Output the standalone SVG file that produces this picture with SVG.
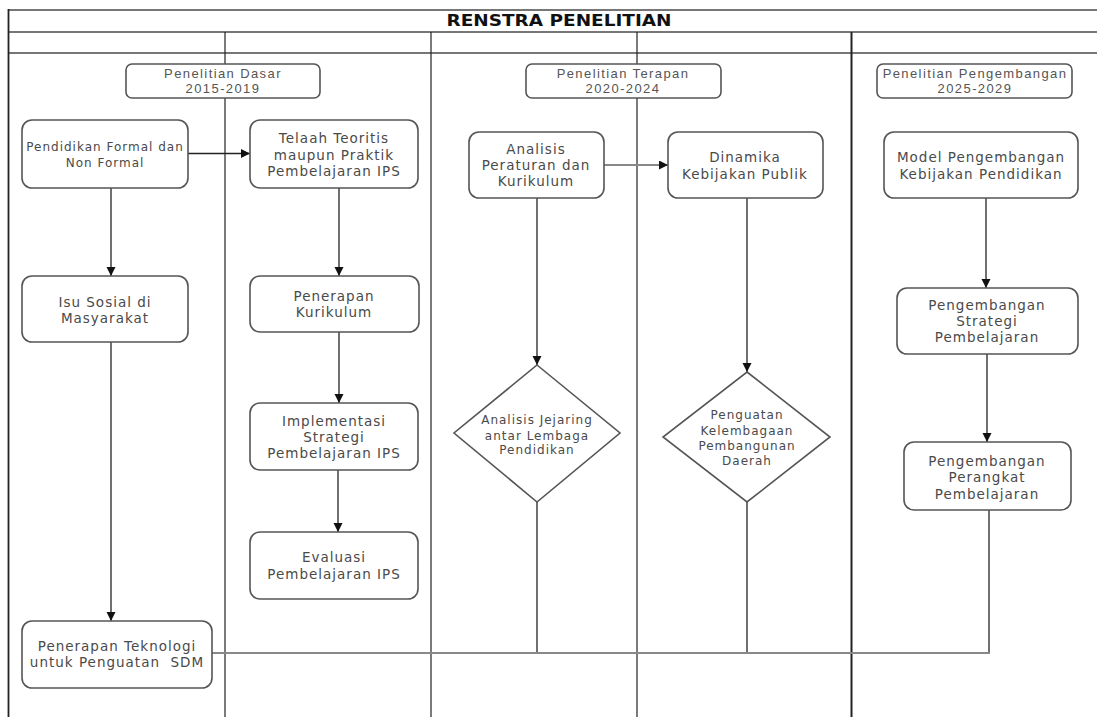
<svg xmlns="http://www.w3.org/2000/svg" width="1097" height="717" viewBox="0 0 1097 717">
<defs>
<marker id="ah" markerUnits="userSpaceOnUse" markerWidth="10" markerHeight="10" refX="9" refY="4.5" orient="auto">
<path d="M0,0 L9,4.5 L0,9 z" fill="#111"/>
</marker>
<style>
.lane{stroke:#222;stroke-width:1.2;fill:none}
.hl{stroke:#777;stroke-width:2;fill:none}
.box{fill:#fff;stroke:#555;stroke-width:1.6}
.hbox{fill:#fff;stroke:#555;stroke-width:1.6}
.t{font-family:"DejaVu Sans",Verdana,sans-serif;font-size:13.5px;letter-spacing:1px;fill:#4a4a4a;text-anchor:middle}
.ts{font-family:"DejaVu Sans",Verdana,sans-serif;font-size:12px;letter-spacing:1px;fill:#4a4a4a;text-anchor:middle}
.th{font-family:"Liberation Sans",Arial,sans-serif;font-size:13px;letter-spacing:1.4px;fill:#555;text-anchor:middle}
.title{font-family:"DejaVu Sans",Verdana,sans-serif;font-size:16px;font-weight:bold;fill:#111;text-anchor:middle}
.c{stroke:#222;stroke-width:1.3;fill:none}
.cg{stroke:#888;stroke-width:2.2;fill:none}
</style>
</defs>
<rect width="1097" height="717" fill="#fff"/>
<g id="swimlanes">
<line class="hl" x1="8" y1="10" x2="1097" y2="10"/>
<line class="hl" x1="8" y1="32" x2="1097" y2="32"/>
<line class="hl" x1="8" y1="53" x2="1097" y2="53"/>
<line class="lane" x1="8.5" y1="9" x2="8.5" y2="717" style="stroke-width:1.8"/>
<line class="lane" x1="225" y1="32" x2="225" y2="717"/>
<line class="lane" x1="431" y1="32" x2="431" y2="717"/>
<line class="lane" x1="637" y1="32" x2="637" y2="717"/>
<line class="lane" x1="851.5" y1="32" x2="851.5" y2="717" style="stroke-width:2"/>
<text class="title" x="559" y="26" textLength="225" lengthAdjust="spacingAndGlyphs">RENSTRA PENELITIAN</text>
</g>
<g id="h-dasar">
<rect class="hbox" x="126" y="64" width="194" height="34" rx="6"/>
<text class="th" x="223" y="78">Penelitian Dasar</text>
<text class="th" x="223" y="93">2015-2019</text>
</g>
<g id="h-terapan">
<rect class="hbox" x="526" y="64" width="195" height="34" rx="6"/>
<text class="th" x="623" y="78">Penelitian Terapan</text>
<text class="th" x="623" y="93">2020-2024</text>
</g>
<g id="h-pengembangan">
<rect class="hbox" x="877" y="64" width="195" height="34" rx="6"/>
<text class="th" x="975" y="78">Penelitian Pengembangan</text>
<text class="th" x="975" y="93">2025-2029</text>
</g>
<g id="connectors">
<line class="c" x1="188" y1="153.5" x2="250" y2="153.5" marker-end="url(#ah)"/>
<line class="c" x1="111" y1="188" x2="111" y2="276" marker-end="url(#ah)"/>
<line class="c" x1="111" y1="342" x2="111" y2="621" marker-end="url(#ah)"/>
<line class="c" x1="339" y1="188" x2="339" y2="276" marker-end="url(#ah)"/>
<line class="c" x1="339" y1="332" x2="339" y2="403" marker-end="url(#ah)"/>
<line class="c" x1="338" y1="470" x2="338" y2="532" marker-end="url(#ah)"/>
<line class="cg" x1="604" y1="165" x2="668" y2="165" marker-end="url(#ah)"/>
<line class="c" x1="537" y1="198" x2="537" y2="365" marker-end="url(#ah)"/>
<line class="c" x1="537" y1="502" x2="537" y2="653"/>
<line class="c" x1="747" y1="198" x2="747" y2="372" marker-end="url(#ah)"/>
<line class="c" x1="747" y1="502" x2="747" y2="653"/>
<line class="c" x1="986" y1="198" x2="986" y2="288" marker-end="url(#ah)"/>
<line class="c" x1="987" y1="354" x2="987" y2="442" marker-end="url(#ah)"/>
<line class="c" x1="989" y1="510" x2="989" y2="653"/>
<line class="cg" x1="212" y1="653" x2="990" y2="653"/>
</g>
<g id="n-pendidikan">
<rect class="box" x="22" y="120" width="166" height="68" rx="10"/>
<text class="ts" x="105" y="151">Pendidikan Formal dan</text>
<text class="ts" x="105" y="167">Non Formal</text>
</g>
<g id="n-telaah">
<rect class="box" x="250" y="120" width="168" height="68" rx="10"/>
<text class="t" x="334" y="143">Telaah Teoritis</text>
<text class="t" x="334" y="159.5">maupun Praktik</text>
<text class="t" x="334" y="176">Pembelajaran IPS</text>
</g>
<g id="n-isu">
<rect class="box" x="22" y="276" width="166" height="66" rx="10"/>
<text class="t" x="105" y="307">Isu Sosial di</text>
<text class="t" x="105" y="323">Masyarakat</text>
</g>
<g id="n-penerapan-kurikulum">
<rect class="box" x="250" y="276" width="169" height="56" rx="10"/>
<text class="t" x="334" y="301">Penerapan</text>
<text class="t" x="334" y="317">Kurikulum</text>
</g>
<g id="n-implementasi">
<rect class="box" x="250" y="403" width="168" height="67" rx="10"/>
<text class="t" x="334" y="426">Implementasi</text>
<text class="t" x="334" y="442">Strategi</text>
<text class="t" x="334" y="458">Pembelajaran IPS</text>
</g>
<g id="n-evaluasi">
<rect class="box" x="250" y="532" width="168" height="67" rx="10"/>
<text class="t" x="334" y="562">Evaluasi</text>
<text class="t" x="334" y="579">Pembelajaran IPS</text>
</g>
<g id="n-teknologi">
<rect class="box" x="22" y="621" width="190" height="67" rx="10"/>
<text class="t" x="117" y="651">Penerapan Teknologi</text>
<text class="t" x="117" y="667" style="white-space:pre">untuk Penguatan  SDM</text>
</g>
<g id="n-analisis">
<rect class="box" x="469" y="132" width="135" height="66" rx="10"/>
<text class="t" x="536" y="154">Analisis</text>
<text class="t" x="536" y="169.5">Peraturan dan</text>
<text class="t" x="536" y="186">Kurikulum</text>
</g>
<g id="n-dinamika">
<rect class="box" x="668" y="132" width="155" height="66" rx="10"/>
<text class="t" x="745" y="162">Dinamika</text>
<text class="t" x="745" y="179">Kebijakan Publik</text>
</g>
<g id="n-jejaring">
<polygon class="box" points="537,365 620,433 537,502 454,433"/>
<text class="ts" x="537" y="424">Analisis Jejaring</text>
<text class="ts" x="537" y="439.5">antar Lembaga</text>
<text class="ts" x="537" y="454">Pendidikan</text>
</g>
<g id="n-kelembagaan">
<polygon class="box" points="747,372 830,437 747,502 663,437"/>
<text class="ts" x="747" y="419">Penguatan</text>
<text class="ts" x="747" y="434.5">Kelembagaan</text>
<text class="ts" x="747" y="449.5">Pembangunan</text>
<text class="ts" x="747" y="464.5">Daerah</text>
</g>
<g id="n-model">
<rect class="box" x="884" y="132" width="194" height="66" rx="10"/>
<text class="t" x="981" y="162">Model Pengembangan</text>
<text class="t" x="981" y="179">Kebijakan Pendidikan</text>
</g>
<g id="n-strategi">
<rect class="box" x="897" y="288" width="181" height="66" rx="10"/>
<text class="t" x="987" y="310">Pengembangan</text>
<text class="t" x="987" y="326">Strategi</text>
<text class="t" x="987" y="342">Pembelajaran</text>
</g>
<g id="n-perangkat">
<rect class="box" x="904" y="442" width="167" height="68" rx="10"/>
<text class="t" x="987" y="466">Pengembangan</text>
<text class="t" x="987" y="482">Perangkat</text>
<text class="t" x="987" y="498.5">Pembelajaran</text>
</g>
</svg>
